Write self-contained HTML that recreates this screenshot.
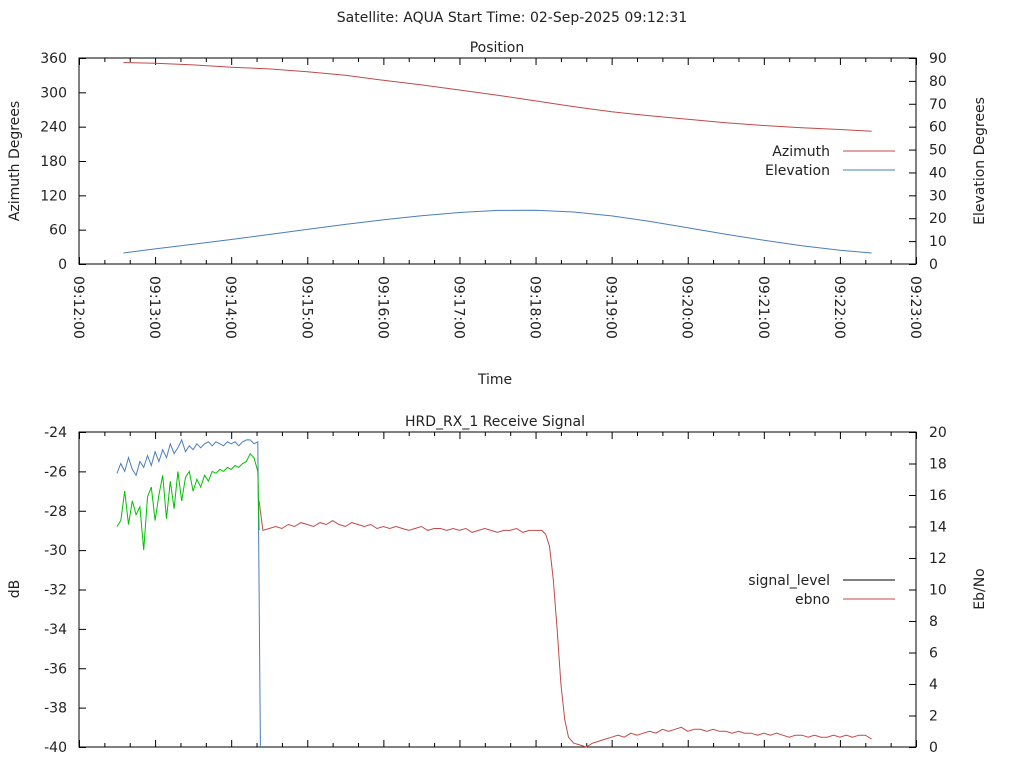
<!DOCTYPE html>
<html><head><meta charset="utf-8"><style>
body{margin:0;background:#fff}
svg{display:block;font-family:"DejaVu Sans","Liberation Sans",sans-serif;font-size:14px;fill:#222}
</style></head><body>
<svg id="c" width="1024" height="768"></svg>
<script>
// Position chart data (seconds after 09:12:00)
const posTimes=[35,60,90,120,150,180,210,240,270,300,330,360,390,420,450,480,510,540,570,600,625];
const azimuthValues=[352,351,348,344,341,336,330,321,313,304,295,285,275,266,259,253,247,242,238,235,232];
const elevationValues=[4.8,6.6,8.6,10.7,12.9,15.1,17.3,19.3,21.1,22.5,23.4,23.5,22.7,21.0,18.6,15.8,13.0,10.4,8.0,6.0,4.8];
const timeTickLabels=["09:12:00","09:13:00","09:14:00","09:15:00","09:16:00","09:17:00","09:18:00","09:19:00","09:20:00","09:21:00","09:22:00","09:23:00"];
const azTickLabels=[0,60,120,180,240,300,360];
const elTickLabels=[0,10,20,30,40,50,60,70,80,90];
const dbTickLabels=[-40,-38,-36,-34,-32,-30,-28,-26,-24];
const ebTickLabels=[0,2,4,6,8,10,12,14,16,18,20];
// Signal chart data
const blueTimes=[30,33,36,39,42,45,48,51,54,57,60,63,66,69,72,75,78,81,84,87,90,93,96,99,102,105,108,111,114,117,120,123,126,129,132,135,138,141,142,143];
const blueValues=[-26.1,-25.6,-26.0,-25.3,-25.9,-26.2,-25.5,-25.8,-25.2,-25.7,-25.0,-25.5,-24.9,-25.3,-24.6,-25.1,-24.8,-24.4,-25.0,-24.7,-24.9,-24.6,-24.8,-24.6,-24.5,-24.7,-24.5,-24.6,-24.7,-24.5,-24.6,-24.5,-24.7,-24.5,-24.4,-24.4,-24.6,-24.5,-32,-40];
const greenTimes=[30,33,36,39,42,45,48,51,54,57,60,63,66,69,72,75,78,81,84,87,90,93,96,99,102,105,108,111,114,117,120,123,126,129,132,135,138,141,142];
const greenValues=[-28.8,-28.5,-27.0,-28.7,-27.5,-28.2,-27.8,-30.0,-27.3,-26.8,-28.5,-27.2,-26.2,-28.4,-26.5,-27.9,-26.0,-27.5,-26.3,-26.0,-27.0,-26.4,-26.8,-26.2,-26.5,-26.0,-26.1,-25.9,-26.0,-25.8,-25.9,-25.7,-25.8,-25.6,-25.5,-25.1,-25.3,-26.0,-29.0];
const redTimes=[142,145,150,155,160,165,170,175,180,185,190,195,200,205,210,215,220,225,230,235,240,245,250,255,260,265,270,275,280,285,290,295,300,305,310,315,320,325,330,335,340,345,350,355,360,365,368,371,374,377,380,383,386,390,395,400,405,410,415,420,425,430,435,440,445,450,455,460,465,470,475,480,485,490,495,500,505,510,515,520,525,530,535,540,545,550,555,560,565,570,575,580,585,590,595,600,605,610,615,620,625];
const redValues=[-27.5,-29.0,-28.9,-28.8,-28.9,-28.7,-28.8,-28.6,-28.7,-28.8,-28.6,-28.7,-28.5,-28.7,-28.8,-28.6,-28.7,-28.8,-28.7,-28.9,-28.8,-28.9,-28.8,-28.9,-29.0,-28.9,-28.8,-29.0,-28.9,-28.9,-29.0,-28.9,-29.0,-28.9,-29.1,-29.0,-28.9,-29.0,-29.1,-29.0,-29.0,-28.9,-29.1,-29.0,-29.0,-29.0,-29.2,-29.8,-31.5,-34.0,-36.8,-38.6,-39.5,-39.8,-39.9,-40.0,-39.8,-39.7,-39.6,-39.5,-39.4,-39.5,-39.3,-39.4,-39.3,-39.2,-39.3,-39.1,-39.2,-39.1,-39.0,-39.2,-39.1,-39.1,-39.2,-39.1,-39.2,-39.2,-39.3,-39.2,-39.3,-39.3,-39.4,-39.3,-39.4,-39.3,-39.4,-39.5,-39.4,-39.4,-39.5,-39.4,-39.5,-39.5,-39.4,-39.5,-39.4,-39.5,-39.4,-39.4,-39.6];

const svg=document.getElementById('c');
const NS='http://www.w3.org/2000/svg';
function mk(tag,attrs,parent){const e=document.createElementNS(NS,tag);for(const k in attrs)e.setAttribute(k,attrs[k]);(parent||svg).appendChild(e);return e;}
function txt(s,x,y,anchor,name,rot){const t=mk('text',{x:x,y:y,'text-anchor':anchor||'start'});t.textContent=s;if(rot)t.setAttribute('transform',rot);


return t;}
const L=79,R=916;
const xS=t=>L+(t/660)*(R-L);
function frame(T,B,name){
 const g=mk('g',{});
 
 
 mk('rect',{x:L,y:T,width:R-L,height:B-T,fill:'none',stroke:'#000','stroke-width':1},g);
 for(let s=0;s<=660;s+=20){const x=xS(s)+0.5;const len=(s%60===0)?7:4;
  mk('line',{x1:x,y1:B,x2:x,y2:B-len,stroke:'#000'},g);mk('line',{x1:x,y1:T,x2:x,y2:T+len,stroke:'#000'},g);}
 return g;}
function poly(ts,vs,ys,color,name){
 const pts=ts.map((t,i)=>xS(t).toFixed(1)+','+ys(vs[i]).toFixed(1)).join(' ');
 const p=mk('polyline',{points:pts,fill:'none',stroke:color,'stroke-width':1});
 
 }

txt('Satellite: AQUA    Start Time: 02-Sep-2025 09:12:31',512,22,'middle','main-title').setAttribute('xml:space','preserve');
// Top chart
const T1=58,B1=264;
txt('Position',497,52,'middle','position-title');
const g1=frame(T1,B1,'position-plot-frame');
const azY=v=>B1-(v/360)*(B1-T1), elY=v=>B1-(v/90)*(B1-T1);
azTickLabels.forEach(v=>{const y=azY(v);txt(String(v),67,y+5,'end','azimuth-tick-label');mk('line',{x1:L,y1:y+.5,x2:L+7,y2:y+.5,stroke:'#000'});});
elTickLabels.forEach(v=>{const y=elY(v);txt(String(v),929,y+5,'start','elevation-tick-label');mk('line',{x1:R,y1:y+.5,x2:R-7,y2:y+.5,stroke:'#000'});});
timeTickLabels.forEach((s,i)=>{const x=xS(i*60);txt(s,0,0,'start','time-tick-label','translate('+(x-5)+',276) rotate(90)');});
txt('Azimuth Degrees',0,0,'middle','azimuth-axis-title','translate(19,161) rotate(-90)');
txt('Elevation Degrees',0,0,'middle','elevation-axis-title','translate(984,161) rotate(-90)');
txt('Time',495,384,'middle','time-axis-title');
poly(posTimes,azimuthValues,azY,'#c14a4a','azimuth-line');
poly(posTimes,elevationValues,elY,'#4a7ebb','elevation-line');
txt('Azimuth',830,156,'end','legend-azimuth-label');mk('line',{x1:843,y1:151,x2:895,y2:151,stroke:'#c14a4a'});
txt('Elevation',830,175,'end','legend-elevation-label');mk('line',{x1:843,y1:170,x2:895,y2:170,stroke:'#4a7ebb'});
// Bottom chart
const T2=432,B2=747;
txt('HRD_RX_1 Receive Signal',495,426,'middle','signal-title');
frame(T2,B2,'signal-plot-frame');
const dbY=v=>T2+((-24-v)/16)*(B2-T2), ebY=v=>B2-(v/20)*(B2-T2);
dbTickLabels.forEach(v=>{const y=dbY(v);txt(String(v),67,y+5,'end','db-tick-label');mk('line',{x1:L,y1:y+.5,x2:L+7,y2:y+.5,stroke:'#000'});});
ebTickLabels.forEach(v=>{const y=ebY(v);txt(String(v),929,y+5,'start','ebno-tick-label');mk('line',{x1:R,y1:y+.5,x2:R-7,y2:y+.5,stroke:'#000'});});
txt('dB',0,0,'middle','db-axis-title','translate(19,589) rotate(-90)');
txt('Eb/No',0,0,'middle','ebno-axis-title','translate(984,589) rotate(-90)');
poly(blueTimes,blueValues,dbY,'#4a7ebb','signal-blue-line');
poly(greenTimes,greenValues,dbY,'#00c000','signal-green-line');
poly(redTimes,redValues,dbY,'#c14a4a','signal-red-line');
txt('signal_level',830,585,'end','legend-signal-level-label');mk('line',{x1:843,y1:580,x2:895,y2:580,stroke:'#000'});
txt('ebno',830,604,'end','legend-ebno-label');mk('line',{x1:843,y1:599,x2:895,y2:599,stroke:'#c14a4a'});
</script>
</body></html>
